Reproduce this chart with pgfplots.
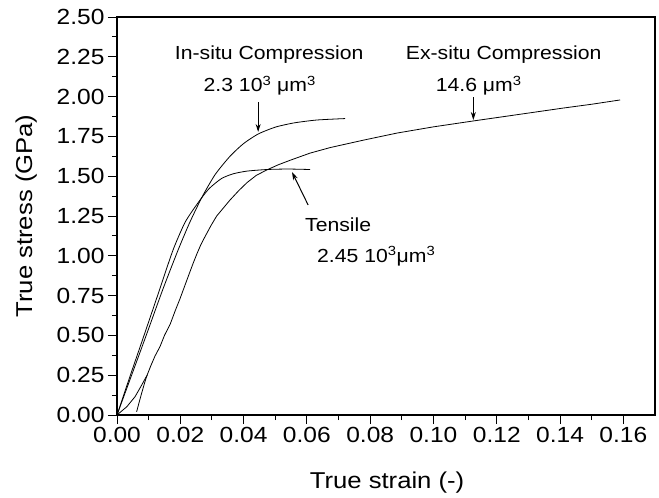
\documentclass[border=0pt]{standalone}
\usepackage{pgfplots}
\pgfplotsset{compat=1.18}
\usetikzlibrary{arrows.meta}
\usepackage{fontspec}
\setmainfont{Liberation Sans}[FakeStretch=1.12]
\begin{document}
\begin{tikzpicture}
\useasboundingbox (0,0) rectangle (659bp,498bp);
\begin{axis}[
  at={(117bp,83bp)}, anchor=south west,
  scale only axis, width=538bp, height=398bp,
  xmin=0, xmax=0.17, ymin=0, ymax=2.5,
  xtick={0,0.02,0.04,0.06,0.08,0.10,0.12,0.14,0.16},
  ytick={0,0.25,0.5,0.75,1,1.25,1.5,1.75,2,2.25,2.5},
  minor x tick num=1, minor y tick num=1,
  tick align=outside, xtick pos=bottom, ytick pos=left,
  major tick length=9bp, minor tick length=5bp,
  axis line style={line width=1.1pt},
  every tick/.style={black, line width=0.9pt},
  /pgf/number format/fixed, /pgf/number format/fixed zerofill,
  /pgf/number format/precision=2, /pgf/number format/assume math mode=true,
  ticklabel style={font=\fontsize{22}{25}\selectfont},
  xlabel={True strain (-)}, ylabel={True stress (GPa)},
  label style={font=\fontsize{23}{26}\selectfont},
  xlabel style={at={(axis description cs:0.502,-0.171)}, anchor=center},
  ylabel style={at={(axis description cs:-0.169,0.5)}, anchor=center},
]
% In-situ compression
\addplot[black, line width=0.8pt, smooth, tension=0.4] coordinates {
(0,0) (0.0048,0.26) (0.0095,0.515) (0.0145,0.79) (0.0193,1.036) (0.0230,1.21)
(0.0269,1.37) (0.0310,1.51) (0.0357,1.625) (0.0400,1.705) (0.0446,1.765)
(0.0500,1.808) (0.0560,1.835) (0.0632,1.853) (0.0721,1.862)};
% Tensile
\addplot[black, line width=0.8pt, smooth, tension=0.4] coordinates {
(0,0) (0.0044,0.26) (0.0088,0.515) (0.0135,0.79) (0.0177,1.036) (0.0215,1.21)
(0.0255,1.33) (0.0290,1.42) (0.0330,1.485) (0.0367,1.515) (0.0411,1.532)
(0.0474,1.542) (0.0540,1.545) (0.0610,1.542)};
% Ex-situ compression: toe
\addplot[black, line width=0.8pt] coordinates {
(0,0) (0.0031,0.052) (0.0057,0.115) (0.0078,0.188) (0.0092,0.239) (0.0096,0.25)};
% Ex-situ compression: main
\addplot[black, line width=0.8pt] coordinates {
(0.0062,0.02) (0.0070,0.08) (0.0078,0.138) (0.0087,0.20) (0.0094,0.245)
(0.0107,0.31) (0.0120,0.37) (0.0136,0.43) (0.0150,0.50) (0.0168,0.57)
(0.0183,0.65) (0.0199,0.73) (0.0212,0.80) (0.0225,0.87) (0.0240,0.95)
(0.0252,1.01) (0.0265,1.07) (0.0278,1.12) (0.0297,1.19) (0.0315,1.25)
(0.0336,1.30) (0.0357,1.35) (0.0385,1.41) (0.0411,1.46) (0.0440,1.505)
(0.0474,1.54) (0.0510,1.572) (0.0547,1.60) (0.0610,1.645) (0.0674,1.68)
(0.0780,1.727) (0.0885,1.771) (0.1000,1.810) (0.1126,1.847) (0.1270,1.888)
(0.1410,1.928) (0.1500,1.952) (0.1590,1.979)};
% annotations
\node[anchor=base, font=\fontsize{19}{22}\selectfont] at (axis cs:0.0481,2.230) {In-situ Compression};
\node[anchor=base, font=\fontsize{19}{22}\selectfont] at (axis cs:0.0451,2.029) {2.3 10\textsuperscript{3} μm\textsuperscript{3}};
\node[anchor=base, font=\fontsize{19}{22}\selectfont] at (axis cs:0.1222,2.230) {Ex-situ Compression};
\node[anchor=base, font=\fontsize{19}{22}\selectfont] at (axis cs:0.1143,2.029) {14.6 μm\textsuperscript{3}};
\node[anchor=base west, font=\fontsize{19}{22}\selectfont, inner sep=0pt] at (axis cs:0.0594,1.1495) {Tensile};
\node[anchor=base west, font=\fontsize{19}{22}\selectfont, inner sep=0pt] at (axis cs:0.0632,0.961) {2.45 10\textsuperscript{3}μm\textsuperscript{3}};
\draw[line width=1pt, -{Stealth[length=8bp,width=5bp]}] (axis cs:0.0446,1.966) -- (axis cs:0.0446,1.778);
\draw[line width=1pt, -{Stealth[length=8bp,width=5bp]}] (axis cs:0.1126,1.997) -- (axis cs:0.1126,1.853);
\draw[line width=1pt, -{Stealth[length=8bp,width=5bp]}] (axis cs:0.0604,1.319) -- (axis cs:0.0553,1.526);
\end{axis}
\end{tikzpicture}
\end{document}
